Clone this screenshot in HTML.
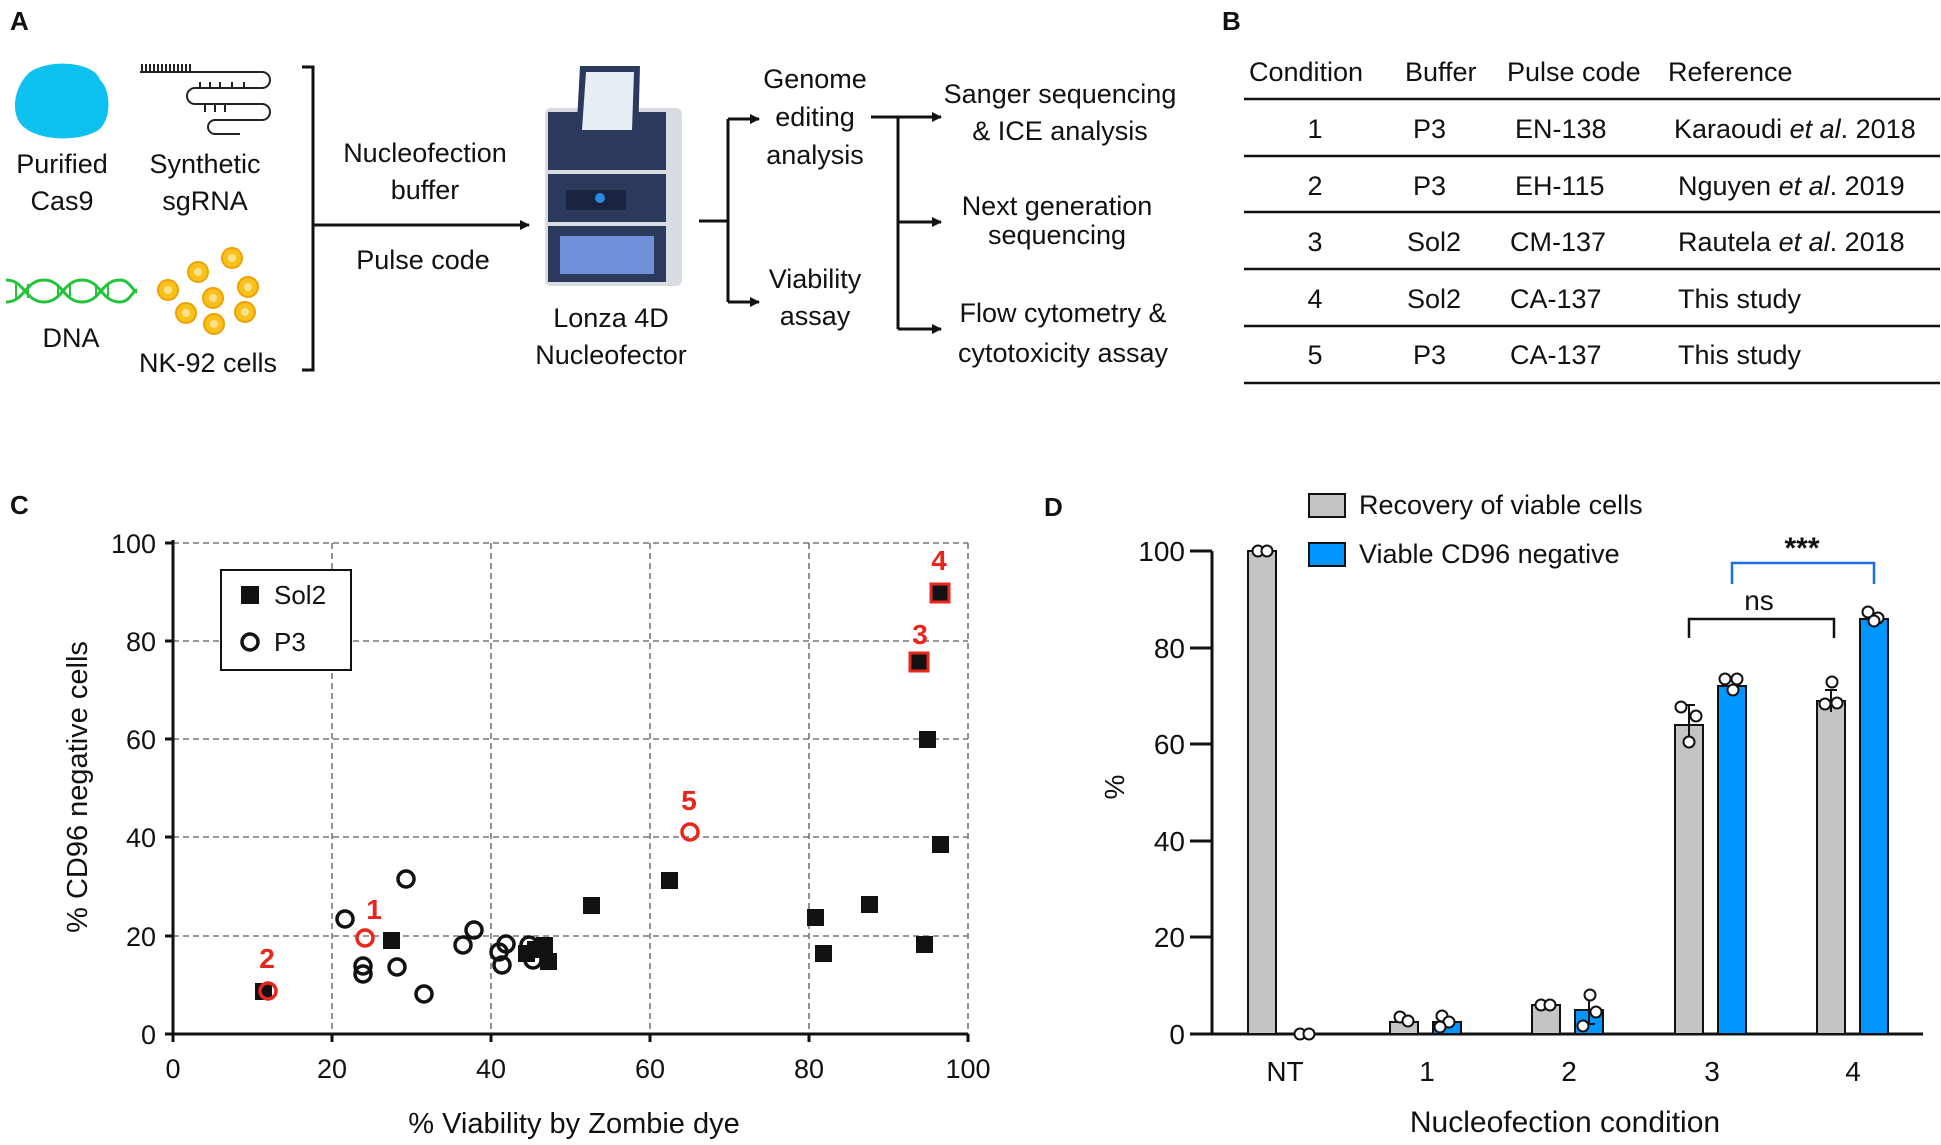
<!DOCTYPE html>
<html><head><meta charset="utf-8"><style>
html,body{margin:0;padding:0;background:#fff;}
svg{display:block;}
text{font-family:"Liberation Sans",Arial,sans-serif;fill:#111;}
</style></head><body>
<svg width="1941" height="1145" viewBox="0 0 1941 1145" xmlns="http://www.w3.org/2000/svg">
<defs>
<marker id="ar" markerWidth="10" markerHeight="10" refX="9" refY="5" orient="auto" markerUnits="userSpaceOnUse"><path d="M0,0 L10,5 L0,10 z" fill="#111"/></marker>
</defs>
<!-- Panel A -->
<text x="10" y="30" font-size="26" font-weight="bold">A</text>
<path d="M30,72 C50,58 95,62 100,80 C112,90 112,125 95,132 C75,142 40,140 25,128 C10,118 12,88 30,72z" fill="#0cc0f0"/>
<g font-size="27" text-anchor="middle">
<text x="62" y="173">Purified</text><text x="62" y="210">Cas9</text>
<text x="205" y="173">Synthetic</text><text x="205" y="210">sgRNA</text>
<text x="71" y="347">DNA</text><text x="208" y="372">NK-92 cells</text>
<text x="425" y="162">Nucleofection</text><text x="425" y="199">buffer</text>
<text x="423" y="269">Pulse code</text>
<text x="611" y="327">Lonza 4D</text><text x="611" y="364">Nucleofector</text>
<text x="815" y="88">Genome</text><text x="815" y="126">editing</text><text x="815" y="164">analysis</text>
<text x="815" y="288">Viability</text><text x="815" y="325">assay</text>
<text x="1060" y="103">Sanger sequencing</text><text x="1060" y="140">&amp; ICE analysis</text>
<text x="1057" y="215">Next generation</text><text x="1057" y="244">sequencing</text>
<text x="1063" y="322">Flow cytometry &amp;</text><text x="1063" y="362">cytotoxicity assay</text>
</g>
<!-- sgRNA -->
<g stroke="#222" stroke-width="2" fill="none">
<path d="M140,72 H262 A8,8 0 0 1 262,88 H195 A8,8 0 0 0 195,104 H262 A8,8 0 0 1 262,120 H215 A7,7 0 0 0 215,134 H240"/>
<path d="M142,64 V72 M146,64 V72 M150,64 V72 M154,64 V72 M158,64 V72 M162,64 V72 M166,64 V72 M170,64 V72 M174,64 V72 M178,64 V72 M182,64 V72 M186,64 V72 M190,64 V72 M200,82 V88 M210,82 V88 M220,82 V88 M232,82 V88 M244,82 V88 M205,104 V112 M215,104 V112 M225,104 V112"/>
</g>
<!-- DNA -->
<g stroke="#22c43a" stroke-width="3" fill="none">
<path d="M6,280 C25,280 25,302 44,302 C63,302 63,280 82,280 C101,280 101,302 120,302 C130,302 133,290 137,290"/>
<path d="M6,302 C25,302 25,280 44,280 C63,280 63,302 82,302 C101,302 101,280 120,280 C130,280 133,292 137,292"/>
<path d="M16,284 V298 M28,284 V298 M58,284 V298 M70,284 V298 M96,284 V298 M108,284 V298" stroke-width="2"/>
</g>
<!-- cells -->
<g fill="#f7c21c" stroke="#f0a000" stroke-width="2">
<circle cx="232" cy="258" r="10"/><circle cx="198" cy="272" r="10"/><circle cx="248" cy="287" r="10"/>
<circle cx="168" cy="290" r="10"/><circle cx="213" cy="298" r="10"/><circle cx="186" cy="313" r="10"/>
<circle cx="245" cy="312" r="10"/><circle cx="214" cy="324" r="10"/>
</g>
<g fill="#fff" opacity="0.5"><circle cx="232" cy="258" r="4"/><circle cx="198" cy="272" r="4"/><circle cx="248" cy="287" r="4"/><circle cx="168" cy="290" r="4"/><circle cx="213" cy="298" r="4"/><circle cx="186" cy="313" r="4"/><circle cx="245" cy="312" r="4"/><circle cx="214" cy="324" r="4"/></g>
<!-- arrows A -->
<g stroke="#111" stroke-width="3" fill="none">
<path d="M302,67 H313 V370 H302"/>
<path d="M313,225 H529" marker-end="url(#ar)"/>
<path d="M699,221 H728 M728,119 V302"/>
<path d="M728,119 H759" marker-end="url(#ar)"/>
<path d="M728,302 H759" marker-end="url(#ar)"/>
<path d="M871,117 H941" marker-end="url(#ar)"/>
<path d="M898,117 V329"/>
<path d="M898,222 H941" marker-end="url(#ar)"/>
<path d="M898,329 H941" marker-end="url(#ar)"/>
</g>
<!-- device -->
<rect x="545" y="108" width="137" height="178" rx="6" fill="#d8dbe0"/>
<rect x="548" y="112" width="118" height="58" fill="#2b3a5c"/>
<rect x="548" y="174" width="118" height="48" fill="#2b3a5c"/>
<rect x="548" y="226" width="118" height="56" fill="#2b3a5c"/>
<rect x="560" y="236" width="94" height="38" fill="#6f8fd8"/>
<rect x="566" y="190" width="60" height="20" fill="#1a2440"/>
<circle cx="600" cy="198" r="5" fill="#2a8be0"/>
<polygon points="580,66 640,66 638,140 576,140" fill="#2b3a5c"/>
<polygon points="586,72 634,72 632,130 582,130" fill="#e8eef6"/>
<!-- Panel B -->
<text x="1222" y="30" font-size="26" font-weight="bold">B</text>
<g font-size="27">
<text x="1249" y="81">Condition</text><text x="1405" y="81">Buffer</text><text x="1507" y="81">Pulse code</text><text x="1668" y="81">Reference</text>
<text x="1315" y="138" text-anchor="middle">1</text><text x="1413" y="138">P3</text><text x="1515" y="138">EN-138</text><text x="1674" y="138">Karaoudi <tspan font-style="italic">et al</tspan>. 2018</text>
<text x="1315" y="195" text-anchor="middle">2</text><text x="1413" y="195">P3</text><text x="1515" y="195">EH-115</text><text x="1678" y="195">Nguyen <tspan font-style="italic">et al</tspan>. 2019</text>
<text x="1315" y="251" text-anchor="middle">3</text><text x="1407" y="251">Sol2</text><text x="1510" y="251">CM-137</text><text x="1678" y="251">Rautela <tspan font-style="italic">et al</tspan>. 2018</text>
<text x="1315" y="308" text-anchor="middle">4</text><text x="1407" y="308">Sol2</text><text x="1510" y="308">CA-137</text><text x="1678" y="308">This study</text>
<text x="1315" y="364" text-anchor="middle">5</text><text x="1413" y="364">P3</text><text x="1510" y="364">CA-137</text><text x="1678" y="364">This study</text>
</g>
<g stroke="#111" stroke-width="2.5"><path d="M1244,99 H1940 M1244,156 H1940 M1244,212 H1940 M1244,269 H1940 M1244,326 H1940 M1244,383 H1940"/></g>

<!-- Panel C -->
<text x="10" y="514" font-size="26" font-weight="bold">C</text>
<g stroke="#777" stroke-width="1.6" stroke-dasharray="6,4" fill="none">
<path d="M332,543 V1034 M491,543 V1034 M650,543 V1034 M809,543 V1034 M968,543 V1034"/>
<path d="M173,543 H968 M173,641 H968 M173,739 H968 M173,837 H968 M173,936 H968"/>
</g>
<g stroke="#111" stroke-width="3" fill="none"><path d="M173,540 V1034 H968 M165,543 H173 M165,641 H173 M165,739 H173 M165,837 H173 M165,936 H173 M165,1034 H173 M173,1034 V1042 M332,1034 V1042 M491,1034 V1042 M650,1034 V1042 M809,1034 V1042 M968,1034 V1042"/></g>
<g font-size="27" text-anchor="end">
<text x="156" y="553">100</text><text x="156" y="651">80</text><text x="156" y="749">60</text><text x="156" y="847">40</text><text x="156" y="946">20</text><text x="156" y="1044">0</text>
</g>
<g font-size="27" text-anchor="middle">
<text x="173" y="1078">0</text><text x="332" y="1078">20</text><text x="491" y="1078">40</text><text x="650" y="1078">60</text><text x="809" y="1078">80</text><text x="968" y="1078">100</text>
<text x="574" y="1133" font-size="29">% Viability by Zombie dye</text>
<text transform="translate(87,787) rotate(-90)" font-size="29">% CD96 negative cells</text>
</g>
<rect x="221" y="570" width="130" height="100" fill="#fff" stroke="#111" stroke-width="2"/>
<rect x="241" y="586" width="18" height="18" fill="#111"/>
<circle cx="250" cy="642" r="8" fill="none" stroke="#111" stroke-width="3.5"/>
<text x="274" y="604" font-size="26">Sol2</text><text x="274" y="651" font-size="26">P3</text>
<g fill="#111">
<rect x="255" y="983" width="17" height="17"/><rect x="383" y="932" width="17" height="17"/><rect x="583" y="897" width="17" height="17"/>
<rect x="661" y="872" width="17" height="17"/><rect x="807" y="909" width="17" height="17"/><rect x="815" y="945" width="17" height="17"/>
<rect x="861" y="896" width="17" height="17"/><rect x="916" y="936" width="17" height="17"/><rect x="919" y="731" width="17" height="17"/>
<rect x="932" y="836" width="17" height="17"/><rect x="518" y="945" width="17" height="17"/><rect x="536" y="937" width="17" height="17"/>
<rect x="540" y="953" width="17" height="17"/><rect x="527" y="941" width="17" height="17"/>
</g>
<rect x="910" y="653" width="18" height="18" fill="#111" stroke="#e8261c" stroke-width="3"/>
<rect x="931" y="584" width="18" height="18" fill="#111" stroke="#e8261c" stroke-width="3"/>
<g fill="none" stroke="#111" stroke-width="3.5">
<circle cx="345" cy="919" r="8"/><circle cx="406" cy="879" r="8"/><circle cx="363" cy="966" r="8"/><circle cx="363" cy="974" r="8"/>
<circle cx="397" cy="967" r="8"/><circle cx="424" cy="994" r="8"/><circle cx="463" cy="945" r="8"/><circle cx="474" cy="930" r="8"/>
<circle cx="499" cy="952" r="8"/><circle cx="502" cy="965" r="8"/><circle cx="506" cy="944" r="8"/><circle cx="529" cy="945" r="8"/><circle cx="533" cy="960" r="8"/>
</g>
<g fill="none" stroke="#e8261c" stroke-width="3.5"><circle cx="365" cy="938" r="8"/><circle cx="268" cy="991" r="8"/><circle cx="690" cy="832" r="8"/></g>
<g font-size="28" font-weight="bold" text-anchor="middle">
<text x="267" y="968" style="fill:#e8261c">2</text><text x="374" y="919" style="fill:#e8261c">1</text><text x="689" y="810" style="fill:#e8261c">5</text><text x="920" y="644" style="fill:#e8261c">3</text><text x="939" y="570" style="fill:#e8261c">4</text>
</g>

<!-- Panel D -->
<text x="1044" y="516" font-size="26" font-weight="bold">D</text>
<rect x="1309" y="494" width="36" height="23" fill="#c4c4c4" stroke="#111" stroke-width="2"/>
<rect x="1309" y="543" width="36" height="23" fill="#0096ff" stroke="#111" stroke-width="2"/>
<text x="1359" y="514" font-size="27">Recovery of viable cells</text>
<text x="1359" y="563" font-size="27">Viable CD96 negative</text>
<g stroke="#111" stroke-width="3" fill="none"><path d="M1212,551 V1034 H1923 M1190,551 H1212 M1190,648 H1212 M1190,744 H1212 M1190,841 H1212 M1190,937 H1212 M1190,1034 H1212"/></g>
<g font-size="28" text-anchor="end">
<text x="1185" y="561">100</text><text x="1185" y="658">80</text><text x="1185" y="754">60</text><text x="1185" y="851">40</text><text x="1185" y="947">20</text><text x="1185" y="1044">0</text>
</g>
<g font-size="28" text-anchor="middle">
<text x="1285" y="1081">NT</text><text x="1427" y="1081">1</text><text x="1569" y="1081">2</text><text x="1712" y="1081">3</text><text x="1853" y="1081">4</text>
<text x="1565" y="1132" font-size="30">Nucleofection condition</text>
<text transform="translate(1124,787) rotate(-90)" font-size="28">%</text>
</g>
<g stroke="#111" stroke-width="2">
<rect x="1248" y="551" width="28" height="483" fill="#c4c4c4"/>
<rect x="1390" y="1022" width="28" height="12" fill="#c4c4c4"/>
<rect x="1433" y="1022" width="28" height="12" fill="#0096ff"/>
<rect x="1532" y="1005" width="28" height="29" fill="#c4c4c4"/>
<rect x="1575" y="1010" width="28" height="24" fill="#0096ff"/>
<rect x="1675" y="725" width="28" height="309" fill="#c4c4c4"/>
<rect x="1718" y="686" width="28" height="348" fill="#0096ff"/>
<rect x="1817" y="701" width="28" height="333" fill="#c4c4c4"/>
<rect x="1860" y="619" width="28" height="415" fill="#0096ff"/>
<path d="M1689,705 V744 M1683,705 H1695 M1831,690 V712 M1825,690 H1837 M1589,994 V1024 M1583,1024 H1595" fill="none"/>
</g>
<g fill="#fff" stroke="#111" stroke-width="2">
<circle cx="1258" cy="551" r="5.5"/><circle cx="1267" cy="551" r="5.5"/>
<circle cx="1300" cy="1034" r="5.5"/><circle cx="1309" cy="1034" r="5.5"/>
<circle cx="1400" cy="1017" r="5.5"/><circle cx="1408" cy="1021" r="5.5"/>
<circle cx="1442" cy="1016" r="5.5"/><circle cx="1449" cy="1022" r="5.5"/><circle cx="1440" cy="1027" r="5.5"/>
<circle cx="1541" cy="1005" r="5.5"/><circle cx="1550" cy="1005" r="5.5"/>
<circle cx="1590" cy="995" r="5.5"/><circle cx="1596" cy="1012" r="5.5"/><circle cx="1583" cy="1026" r="5.5"/>
<circle cx="1681" cy="707" r="5.5"/><circle cx="1696" cy="716" r="5.5"/><circle cx="1689" cy="742" r="5.5"/>
<circle cx="1725" cy="679" r="5.5"/><circle cx="1737" cy="679" r="5.5"/><circle cx="1733" cy="690" r="5.5"/>
<circle cx="1832" cy="682" r="5.5"/><circle cx="1825" cy="704" r="5.5"/><circle cx="1837" cy="703" r="5.5"/>
<circle cx="1868" cy="612" r="5.5"/><circle cx="1878" cy="618" r="5.5"/><circle cx="1874" cy="621" r="5.5"/>
</g>
<path d="M1689,638 V619 H1834 V638" fill="none" stroke="#111" stroke-width="2.5"/>
<text x="1759" y="610" font-size="28" text-anchor="middle">ns</text>
<path d="M1732,584 V563 H1874 V584" fill="none" stroke="#1a6fe0" stroke-width="2.5"/>
<text x="1802" y="558" font-size="30" font-weight="bold" text-anchor="middle">***</text>
</svg>
</body></html>
